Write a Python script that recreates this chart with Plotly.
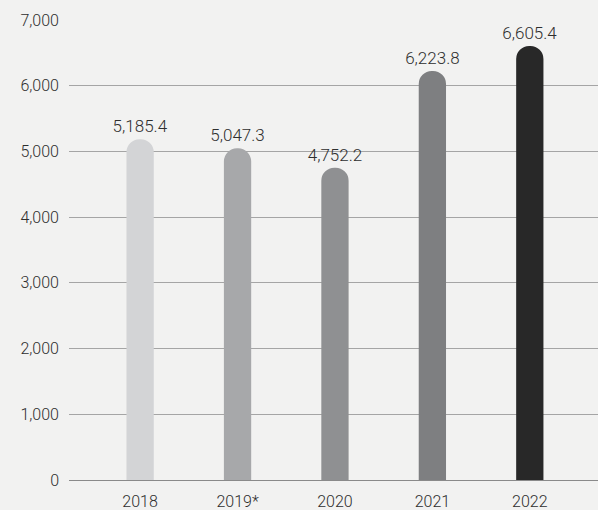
import plotly.graph_objects as go

years = ["2018", "2019*", "2020", "2021", "2022"]
values = [5185.4, 5047.3, 4752.2, 6223.8, 6605.4]
value_labels = ["5,185.4", "5,047.3", "4,752.2", "6,223.8", "6,605.4"]
bar_colors = ["#d3d4d6", "#a7a8aa", "#8f9092", "#7e7f81", "#282828"]
y_ticks = [0, 1000, 2000, 3000, 4000, 5000, 6000, 7000]
y_tick_labels = ["0", "1,000", "2,000", "3,000", "4,000", "5,000", "6,000", "7,000"]

idx = list(range(len(years)))
text_color = "#2e2e2e"

fig = go.Figure()
fig.add_trace(go.Bar(
    x=idx, y=values,
    marker=dict(color=bar_colors, cornerradius="50%", line=dict(width=0)),
    width=0.28,
    text=value_labels, textposition="outside", constraintext="none",
    textfont=dict(size=17, color=text_color, family="Roboto", weight=300),
    cliponaxis=False,
))

fig.update_layout(
    width=598, height=510,
    margin=dict(l=69, r=0, t=20, b=30),
    paper_bgcolor="#f2f2f1", plot_bgcolor="#f2f2f1",
    showlegend=False,
    font=dict(family="Roboto", size=16, color=text_color, weight=300),
    xaxis=dict(
        range=[-0.73, 4.70], tickmode="array", tickvals=idx, ticktext=years,
        showgrid=False, zeroline=False, showline=False, ticks="",
        ticklabelstandoff=10,
        tickfont=dict(size=16, color=text_color, family="Roboto", weight=300),
    ),
    yaxis=dict(
        range=[0, 7000], tickmode="array", tickvals=y_ticks, ticktext=y_tick_labels,
        showgrid=True, gridcolor="#a5a5a5", gridwidth=1,
        zeroline=True, zerolinecolor="#8a8a8a", zerolinewidth=1,
        ticks="", ticklabelstandoff=9,
        tickfont=dict(size=16, color=text_color, family="Roboto", weight=300),
    ),
)

fig.write_html(
    "out.html",
    config={"displayModeBar": False},
    post_script="document.body.style.margin='0';document.body.style.background='#f2f2f1';",
)
